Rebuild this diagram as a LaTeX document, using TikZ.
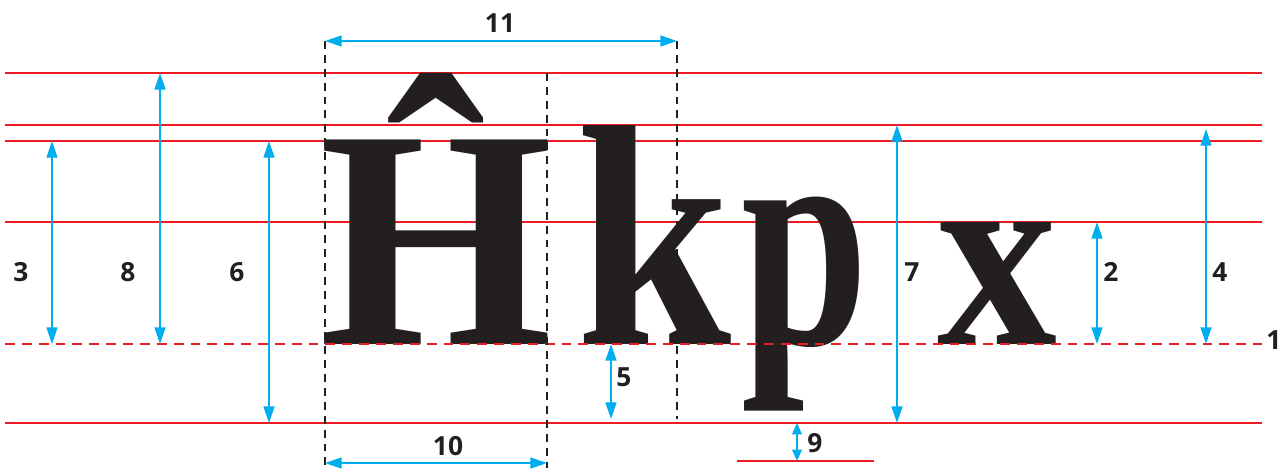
\documentclass[tikz,border=0pt]{standalone}
\usepackage{fontspec}
\setmainfont{Liberation Serif}
\newfontfamily\labelfont{Open Sans}
\usepackage{graphicx}
\usetikzlibrary{arrows.meta,positioning,calc}
\definecolor{guideRed}{RGB}{237,28,36}
\definecolor{dimBlue}{RGB}{0,174,239}
\definecolor{inkBlack}{RGB}{35,31,32}

\begin{document}
\begin{tikzpicture}[x=0.02cm, y=-0.02cm,
    guide/.style={draw=guideRed, line width=1.2pt},
    guidedash/.style={guide, dash pattern=on 5.6pt off 4pt},
    frame/.style={draw=inkBlack, line width=1.1pt, dash pattern=on 4.5pt off 3.4pt},
    dim/.style={draw=dimBlue, line width=1.1pt,
      {Triangle[length=9.5pt,width=6.2pt]}-{Triangle[length=9.5pt,width=6.2pt]}},
    dimsmall/.style={dim, {Triangle[length=6.5pt,width=5.5pt]}-{Triangle[length=6.5pt,width=5.5pt]}},
    num/.style={text=inkBlack, font=\labelfont\bfseries\fontsize{15}{15}\selectfont, inner sep=0pt},
    glyph/.style={text=inkBlack, font=\bfseries, inner sep=0pt, anchor=base west},
    >=Stealth
  ]
    \useasboundingbox (0,0) rectangle (1285,468);

    % Guide levels
    \coordinate (accent) at (5,73);
    \coordinate (ascender) at (5,125);
    \coordinate (capline) at (5,141);
    \coordinate (xline) at (5,222);
    \coordinate (baseline) at (5,344);
    \coordinate (descender) at (5,423);
    \coordinate (rEdge) at (1262,0);
    \coordinate (deepL) at (737,461);
    \coordinate (deepR) at (874,461);

    \draw[guide] (accent) -- (accent -| rEdge);
    \draw[guide] (ascender) -- (ascender -| rEdge);
    \draw[guide] (capline) -- (capline -| rEdge);
    \draw[guide] (xline) -- (xline -| rEdge);
    \draw[guide] (descender) -- (descender -| rEdge);
    \draw[guide] (deepL) -- (deepR);

    % Letters
    \node[glyph] (Hhat) at (319,344) {\resizebox{4.66cm}{5.42cm}{Ĥ}};
    \node[glyph] (kay) at (576,344) {\resizebox{3.1cm}{4.38cm}{k}};
    \node[glyph] (pee) at (741,344) {\resizebox*{2.54cm}{4.28cm}{p}};
    \node[glyph] (ex) at (937,344) {\resizebox{2.4cm}{2.44cm}{x}};

    \draw[guidedash] (baseline) -- (baseline -| rEdge);

    % Frames round the capital
    \coordinate (f1) at (325,0);
    \coordinate (f2) at (547,0);
    \coordinate (f3) at (677,0);
    \coordinate (measTop) at (0,41);
    \coordinate (measBot) at (0,463);
    \coordinate (pageBot) at (0,468);
    \coordinate (frameEnd) at (0,419);
    \draw[frame] (f1 |- measTop) -- (f1 |- pageBot);
    \draw[frame] (f2 |- accent) -- (f2 |- pageBot);
    \draw[frame] (f3 |- measTop) -- (f3 |- frameEnd);

    \draw[dim] (f1 |- measTop) -- (f3 |- measTop);
    \node[num] (n11) at (500,23) {11};
    \draw[dim] (f1 |- measBot) -- (f2 |- measBot);
    \node[num] (n10) at (448,446) {10};

    % Vertical measures (left)
    \coordinate (d3) at (52,0);
    \coordinate (d8) at (160,0);
    \coordinate (d6) at (269,0);
    \draw[dim] (d3 |- capline) -- (d3 |- baseline);
    \node[num] (n3) at (21,272) {3};
    \draw[dim] (d8 |- accent) -- (d8 |- baseline);
    \node[num] (n8) at (128,272) {8};
    \draw[dim] (d6 |- capline) -- (d6 |- descender);
    \node[num] (n6) at (237,272) {6};

    % Vertical measures (right)
    \coordinate (d5) at (611,0);
    \coordinate (d9) at (797,0);
    \coordinate (d7) at (897,0);
    \coordinate (d2) at (1097,0);
    \coordinate (d4) at (1206,0);
    \coordinate (d4top) at (0,129);
    \draw[dim] (d5 |- baseline) -- (d5 |- frameEnd);
    \node[num] (n5) at (624,377) {5};
    \draw[dimsmall] (d9 |- descender) -- (d9 |- deepL);
    \node[num] (n9) at (815,443) {9};
    \draw[dim] (d7 |- ascender) -- (d7 |- descender);
    \node[num] (n7) at (912,272) {7};
    \draw[dim] (d2 |- xline) -- (d2 |- baseline);
    \node[num] (n2) at (1111,272) {2};
    \draw[dim] (d4 |- d4top) -- (d4 |- baseline);
    \node[num] (n4) at (1220,272) {4};
    \node[num] (n1) at (1274,340) {1};
  \end{tikzpicture}
\end{document}
